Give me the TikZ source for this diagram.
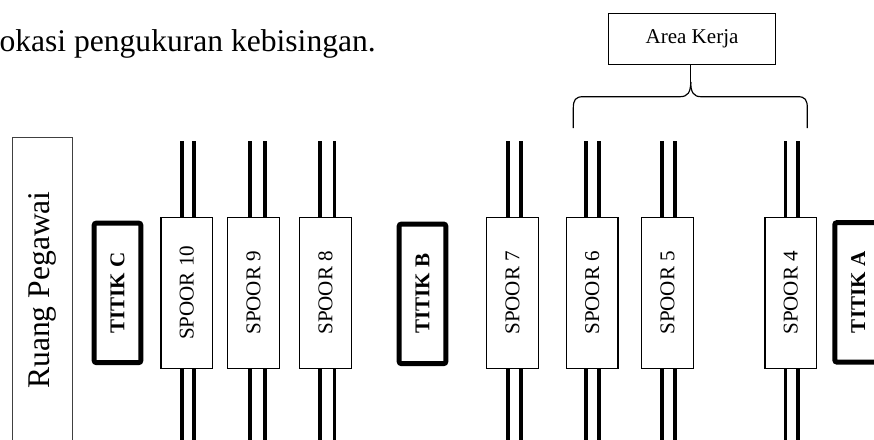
\documentclass[tikz,border=0pt]{standalone}
\usepackage{fontspec}
\setmainfont{Liberation Serif}
\begin{document}
\begin{tikzpicture}[x=0.38pt,y=-0.38pt,
  thinbox/.style={draw=black, line width=0.45pt, fill=white, inner sep=0pt},
  spoorbox/.style={thinbox, minimum width=19.6pt, minimum height=57.4pt,
    font=\fontsize{8}{9.6}\selectfont},
  titikbox/.style={draw=black, line width=1.9pt, rounded corners=0.8pt,
    minimum width=17.7pt, minimum height=53pt, inner sep=0pt,
    font=\fontsize{8}{9.6}\selectfont\bfseries},
  track/.style={line width=1.5pt, draw=black},
  bracepath/.style={draw=black, line width=0.45pt}]
\useasboundingbox (0,0) rectangle (874,439);
\clip (0,0) rectangle (874,439);
\fill[white] (0,0) rectangle (874,439);

% caption fragment
\node[anchor=base west, inner sep=0pt, font=\fontsize{12}{14}\selectfont] (cap) at (-1,51.7) {okasi pengukuran kebisingan.};

% Ruang Pegawai
\node[thinbox, draw=black!75, minimum width=22.8pt, minimum height=116pt,
      font=\fontsize{12}{14}\selectfont] (ruang) at (42.7,290) {\rotatebox{90}{Ruang Pegawai}};

% tracks and spoor boxes
\foreach \n/\cx/\ta/\tb in {10/186.8/182/194, 9/253.5/250.3/265.3, 8/325.5/320.3/334.5,
    7/512.5/508.3/521.2, 6/592.2/586.2/599.2, 5/667.5/662.2/675.2, 4/790.8/785.5/798.3}{
  \node[spoorbox] (s\n) at (\cx,292.8) {\rotatebox{90}{SPOOR \n}};
  \coordinate (s\n ta) at (\ta,141);
  \coordinate (s\n tb) at (\tb,141);
  \coordinate (s\n ba) at (\ta,450);
  \coordinate (s\n bb) at (\tb,450);
  \draw[track] (s\n ta) -- (s\n ta |- s\n.north);
  \draw[track] (s\n tb) -- (s\n tb |- s\n.north);
  \draw[track] (s\n ba |- s\n.south) -- (s\n ba);
  \draw[track] (s\n bb |- s\n.south) -- (s\n bb);
}

% titik boxes
\node[titikbox] (tc) at (117.5,292.85) {\rotatebox{90}{TITIK C}};
\node[titikbox] (tb) at (422.5,293.85) {\rotatebox{90}{TITIK B}};
\node[titikbox] (ta) at (858.1,292.35) {\rotatebox{90}{TITIK A}};

% Area Kerja
\node[thinbox, minimum width=63.6pt, minimum height=19.4pt,
      font=\fontsize{8}{9.6}\selectfont] (ak) at (692,38.8) {Area Kerja};

\coordinate (tip) at (690.7,82);
\coordinate (bl) at (573.3,128);
\coordinate (br) at (807.3,128);
\draw[bracepath] (ak.south -| tip) -- (tip);
\draw[bracepath] (tip) .. controls (690.7,92) and (688,96.7) .. (680,96.7) -- (583,96.7)
   .. controls (575.5,96.7) and (573.3,100) .. (573.3,108) -- (bl);
\draw[bracepath] (tip) .. controls (690.7,92) and (693.4,96.7) .. (701,96.7) -- (798,96.7)
   .. controls (805.1,96.7) and (807.3,100) .. (807.3,108) -- (br);
\end{tikzpicture}
\end{document}
